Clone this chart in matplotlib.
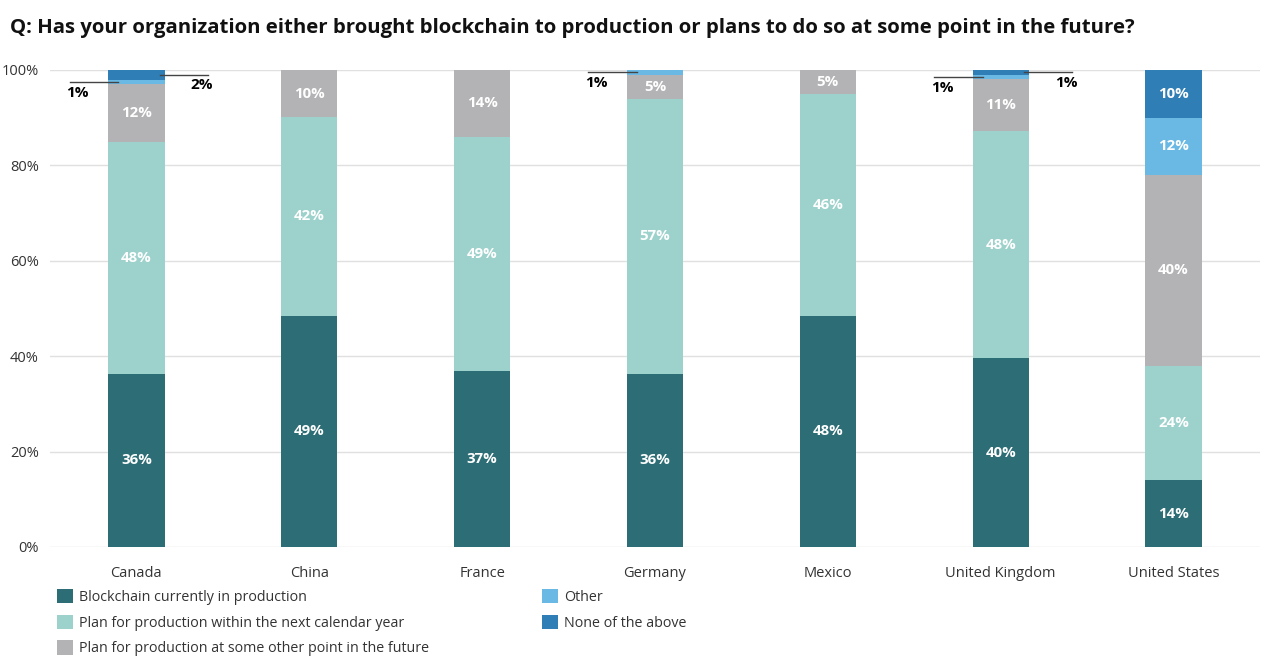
import matplotlib
matplotlib.use("Agg")
import matplotlib.pyplot as plt
import numpy as np

plt.rcParams['font.family'] = ['Open Sans', 'DejaVu Sans']

countries = ["Canada", "China", "France", "Germany", "Mexico", "United Kingdom", "United States"]
series_names = ["Blockchain currently in production",
                "Plan for production within the next calendar year",
                "Plan for production at some other point in the future",
                "Other",
                "None of the above"]
in_production = [36, 49, 37, 36, 48, 40, 14]
next_year = [48, 42, 49, 57, 46, 48, 24]
future = [12, 10, 14, 5, 5, 11, 40]
other = [1, 0, 0, 1, 0, 1, 12]
none_above = [2, 0, 0, 0, 0, 1, 10]
yticks = [0, 20, 40, 60, 80, 100]

colors = ["#2C6D76", "#9DD2CC", "#B3B3B5", "#6AB9E4", "#2F7EB5"]

data = np.array([in_production, next_year, future, other, none_above], dtype=float)
shares = data / data.sum(axis=0) * 100  # 100% stacked

fig = plt.figure(figsize=(12.8, 6.68), dpi=100)
ax = fig.add_axes([50 / 1280, 121 / 668, 1210 / 1280, 477 / 668])

x = np.arange(len(countries))
width = 0.325
bottom = np.zeros(len(countries))
for i, (name, col) in enumerate(zip(series_names, colors)):
    ax.bar(x, shares[i], width, bottom=bottom, color=col, label=name, zorder=2)
    for j in range(len(countries)):
        if data[i, j] >= 3:
            ax.text(x[j], bottom[j] + shares[i, j] / 2, f"{int(data[i, j])}%",
                    ha="center", va="center", color="white", fontsize=10.8,
                    fontweight="bold", zorder=3)
    bottom += shares[i]

# callouts for small segments: (series index, country index, side)
callouts = [(3, 0, -1), (4, 0, 1), (3, 3, -1), (3, 5, -1), (4, 5, 1)]
for si, ci, side in callouts:
    y0 = shares[:si, ci].sum()
    ymid = y0 + shares[si, ci] / 2
    if side < 0:
        x_in, x_out, tx = x[ci] - 0.105, x[ci] - 0.385, x[ci] - 0.34
    else:
        x_in, x_out, tx = x[ci] + 0.135, x[ci] + 0.415, x[ci] + 0.38
    ax.plot([x_in, x_out], [ymid, ymid], color="#444444", lw=1, zorder=4)
    ax.text(tx, ymid - 2.2, f"{int(data[si, ci])}%", ha="center", va="center",
            color="black", fontsize=11, fontweight="bold", zorder=4)

ax.set_xlim(-0.5, len(countries) - 0.5)
ax.set_ylim(0, 100)
ax.set_yticks(yticks)
ax.set_yticklabels([f"{v}%" for v in yticks])
ax.set_xticks(x)
ax.set_xticklabels(countries)
ax.tick_params(axis="both", length=0, labelsize=10.5, labelcolor="#333333")
ax.tick_params(axis="y", pad=8)
ax.tick_params(axis="x", pad=14)
ax.grid(axis="y", color="#E0E0E0", lw=1, zorder=0)
for s in ax.spines.values():
    s.set_visible(False)

fig.text(10 / 1280, 1 - 28 / 668,
         "Q: Has your organization either brought blockchain to production or plans to do so at some point in the future?",
         ha="left", va="center", fontsize=14.7, fontweight="bold", color="#111111")

handles, labels = ax.get_legend_handles_labels()
leg = fig.legend(handles, labels, ncol=2, loc="upper left",
                 bbox_to_anchor=(57 / 1280, 1 - 589 / 668), frameon=False,
                 fontsize=10.3, handlelength=1.1, handleheight=1.15,
                 handletextpad=0.45, columnspacing=7.9, labelspacing=0.68,
                 borderaxespad=0, borderpad=0)
for t in leg.get_texts():
    t.set_color("#333333")

fig.savefig("out.png", dpi=100)
